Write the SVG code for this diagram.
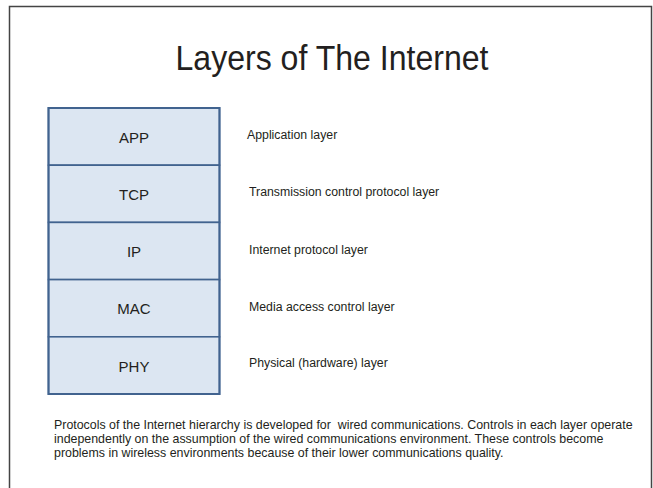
<svg xmlns="http://www.w3.org/2000/svg" width="653" height="488" viewBox="0 0 653 488">
<style>
text{font-family:"Liberation Sans",Arial,sans-serif;fill:#231f20}
.layer{fill:#dce6f2;stroke:#41638f;stroke-width:1.6}
.lbl{font-size:15px;text-anchor:middle}
.desc{font-size:12.3px}
.para{font-size:12.4px}
</style>
<rect x="0" y="0" width="653" height="488" fill="#ffffff"/>
<path d="M9.5,490 V6.5 H651.5 V490" fill="none" stroke="#444" stroke-width="1.5"/>
<text x="332" y="70" font-size="35" text-anchor="middle" textLength="313" lengthAdjust="spacingAndGlyphs">Layers of The Internet</text>
<g id="app"><rect class="layer" x="48.5" y="108" width="171" height="57.2"/><text class="lbl" x="134" y="143">APP</text></g>
<g id="tcp"><rect class="layer" x="48.5" y="165.2" width="171" height="57.2"/><text class="lbl" x="134" y="200">TCP</text></g>
<g id="ip"><rect class="layer" x="48.5" y="222.4" width="171" height="57.2"/><text class="lbl" x="134" y="257">IP</text></g>
<g id="mac"><rect class="layer" x="48.5" y="279.6" width="171" height="57.2"/><text class="lbl" x="134" y="314">MAC</text></g>
<g id="phy"><rect class="layer" x="48.5" y="336.8" width="171" height="57.2"/><text class="lbl" x="134" y="372">PHY</text></g>
<rect x="48.5" y="108" width="171" height="286" fill="none" stroke="#41638f" stroke-width="2"/>
<g id="labels">
<text class="desc" x="247" y="139">Application layer</text>
<text class="desc" x="249" y="196">Transmission control protocol layer</text>
<text class="desc" x="249" y="254">Internet protocol layer</text>
<text class="desc" x="249" y="311">Media access control layer</text>
<text class="desc" x="249" y="367">Physical (hardware) layer</text>
</g>
<g id="connectors"/>
<text class="para" x="54" y="429" xml:space="preserve">Protocols of the Internet hierarchy is developed for  wired communications. Controls in each layer operate</text>
<text class="para" x="54" y="443">independently on the assumption of the wired communications environment. These controls become</text>
<text class="para" x="54" y="457">problems in wireless environments because of their lower communications quality.</text>
</svg>
